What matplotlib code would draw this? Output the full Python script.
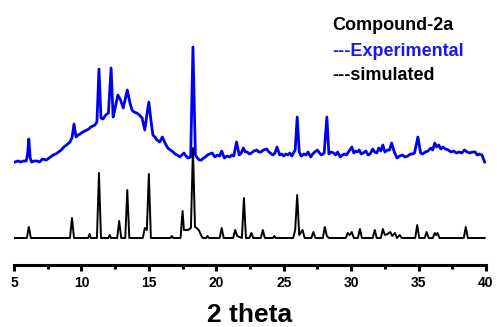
import matplotlib
matplotlib.use("Agg")
import matplotlib.pyplot as plt
from matplotlib.ticker import MultipleLocator

plt.rcParams['font.family'] = ['Liberation Sans', 'DejaVu Sans']

# Experimental pattern: (2theta, relative intensity)
exp_points = [
    (5.07, 8), (5.3, 9), (5.5, 8), (5.7, 9), (5.9, 9), (6.0, 15), (6.1, 31), (6.2, 12),
    (6.3, 8), (6.5, 9), (6.7, 9), (6.9, 8), (7.1, 11), (7.4, 10), (7.6, 12), (7.9, 15),
    (8.1, 16), (8.3, 18), (8.5, 20), (8.7, 23), (8.9, 25), (9.15, 28), (9.3, 32), (9.45, 46),
    (9.6, 33), (9.75, 35), (9.9, 36), (10.1, 38), (10.4, 40), (10.55, 41), (10.7, 43),
    (10.85, 44), (11.0, 45), (11.15, 48), (11.3, 101), (11.45, 52), (11.6, 51), (11.8, 55),
    (12.0, 57), (12.2, 102), (12.35, 53), (12.5, 62), (12.7, 75), (12.9, 70), (13.1, 62),
    (13.4, 80), (13.6, 67), (13.75, 60), (13.9, 58), (14.1, 57), (14.3, 55), (14.5, 52),
    (14.7, 40), (14.85, 55), (15.0, 68), (15.15, 50), (15.3, 35), (15.45, 33), (15.6, 30),
    (15.8, 28), (16.0, 33), (16.2, 27), (16.4, 22), (16.6, 20), (16.8, 18), (16.95, 16),
    (17.1, 15), (17.3, 13), (17.45, 15), (17.6, 17), (17.75, 14), (17.9, 12), (18.1, 13),
    (18.27, 123), (18.45, 15), (18.6, 12), (18.75, 10), (18.9, 10), (19.05, 12), (19.2, 13),
    (19.35, 15), (19.5, 16), (19.7, 17), (19.9, 13), (20.1, 15), (20.25, 14), (20.4, 19),
    (20.6, 12), (20.8, 14), (21.0, 13), (21.15, 15), (21.3, 14), (21.5, 28), (21.7, 15),
    (21.85, 17), (22.0, 22), (22.15, 18), (22.3, 18), (22.45, 16), (22.6, 17), (22.8, 19),
    (23.0, 20), (23.15, 18), (23.3, 18), (23.5, 20), (23.75, 21), (23.9, 18), (24.0, 17),
    (24.2, 15), (24.35, 17), (24.5, 23), (24.7, 15), (24.85, 16), (25.0, 14), (25.15, 16),
    (25.3, 15), (25.45, 17), (25.6, 14), (25.85, 20), (26.0, 53), (26.15, 18), (26.3, 14),
    (26.5, 16), (26.65, 15), (26.8, 18), (27.0, 13), (27.15, 16), (27.3, 18), (27.5, 20),
    (27.65, 17), (27.8, 15), (28.0, 17), (28.2, 53), (28.35, 16), (28.5, 18), (28.7, 17),
    (28.85, 15), (29.0, 18), (29.2, 13), (29.35, 15), (29.5, 16), (29.65, 15), (29.8, 18),
    (30.05, 23), (30.2, 17), (30.3, 19), (30.45, 18), (30.6, 20), (30.75, 16), (30.9, 17),
    (31.1, 19), (31.25, 15), (31.4, 16), (31.6, 21), (31.75, 18), (31.9, 17), (32.05, 22),
    (32.2, 19), (32.35, 25), (32.5, 18), (32.7, 20), (32.85, 20), (33.0, 27), (33.2, 18),
    (33.4, 12), (33.6, 14), (33.8, 15), (34.0, 13), (34.2, 14), (34.4, 16), (34.55, 16),
    (34.7, 17), (34.95, 33), (35.15, 17), (35.3, 16), (35.5, 18), (35.7, 19), (35.9, 22),
    (36.05, 20), (36.2, 27), (36.35, 23), (36.5, 25), (36.65, 21), (36.8, 23), (37.0, 21),
    (37.2, 20), (37.4, 18), (37.6, 19), (37.8, 17), (38.0, 18), (38.2, 17), (38.4, 20),
    (38.6, 18), (38.8, 17), (39.0, 18), (39.2, 18), (39.35, 15), (39.5, 16), (39.7, 15),
    (39.9, 8),
]
exp_2theta = [p[0] for p in exp_points]
exp_intensity = [p[1] for p in exp_points]

# Simulated pattern: (2theta, relative intensity)
sim_points = [
    (5.0, 0), (5.95, 0), (6.1, 11), (6.25, 0), (9.15, 0), (9.3, 20), (9.45, 0),
    (10.5, 0), (10.6, 4), (10.7, 0), (11.15, 0), (11.3, 65), (11.45, 0),
    (12.0, 0), (12.1, 3), (12.2, 0), (12.65, 0), (12.8, 17), (12.95, 0),
    (13.25, 0), (13.4, 48), (13.55, 0), (14.55, 0), (14.7, 10), (14.85, 8),
    (15.0, 64), (15.15, 0), (16.6, 0), (16.7, 2), (16.8, 0), (17.35, 0), (17.5, 27),
    (17.6, 8), (17.75, 8), (17.9, 8), (18.12, 10), (18.27, 90), (18.42, 11),
    (18.55, 10), (18.7, 8), (18.9, 2), (19.0, 0), (19.25, 0), (19.35, 2), (19.45, 0),
    (20.25, 0), (20.4, 10), (20.55, 0), (21.25, 0), (21.4, 8), (21.55, 2), (21.9, 0),
    (22.05, 40), (22.2, 0), (22.45, 0), (22.6, 5), (22.75, 0), (23.3, 0), (23.45, 8),
    (23.6, 0), (24.2, 0), (24.3, 2), (24.4, 0), (25.7, 0), (25.85, 8), (26.0, 43),
    (26.15, 3), (26.4, 8), (26.55, 0), (27.05, 0), (27.2, 6), (27.35, 0), (27.9, 0),
    (28.05, 11), (28.2, 2), (28.35, 0), (29.6, 0), (29.75, 5), (29.9, 3), (30.05, 6),
    (30.2, 0), (30.5, 0), (30.65, 9), (30.8, 0), (31.6, 0), (31.75, 8), (31.9, 0),
    (32.2, 0), (32.35, 9), (32.5, 3), (32.7, 4), (32.9, 6), (33.05, 2), (33.25, 5),
    (33.4, 0), (33.6, 3), (33.75, 0), (34.75, 0), (34.9, 13), (35.05, 0), (35.45, 0),
    (35.6, 6), (35.75, 0), (36.05, 0), (36.2, 5), (36.3, 3), (36.4, 5), (36.55, 0),
    (38.35, 0), (38.5, 11), (38.65, 0), (39.9, 0),
]
sim_2theta = [p[0] for p in sim_points]
sim_intensity = [p[1] for p in sim_points]

xticks = [5, 10, 15, 20, 25, 30, 35, 40]
exp_offset = 95
sim_offset = 27

fig = plt.figure(figsize=(4.97, 3.27), dpi=100)
ax = fig.add_axes([14/497, 1 - 265/327, 472/497, 225/327])

ax.plot(sim_2theta, [v + sim_offset for v in sim_intensity], color='black', lw=1.4, zorder=2)
ax.plot(exp_2theta, [v + exp_offset for v in exp_intensity], color='#0000ee', lw=2.0, zorder=3)

ax.set_xlim(5, 40)
ax.set_ylim(0, 225)
for s in ['left', 'right', 'top']:
    ax.spines[s].set_visible(False)
ax.spines['bottom'].set_linewidth(2.2)
ax.set_yticks([])
ax.set_xticks(xticks)
ax.xaxis.set_minor_locator(MultipleLocator(2.5))
ax.tick_params(axis='x', which='major', direction='out', length=4, width=2.2, pad=4,
               labelsize=10, colors='black')
ax.tick_params(axis='x', which='minor', direction='out', length=3, width=2.2)
for lab in ax.get_xticklabels():
    lab.set_fontweight('bold')
ax.set_xlabel('2 theta', fontsize=19, fontweight='bold', labelpad=9)

fig.text(332/497, 1 - 26/327, 'Compound-2a', fontsize=13, fontweight='bold',
         color='black', va='center', ha='left')
fig.text(332/497, 1 - 51/327, '---Experimental', fontsize=13, fontweight='bold',
         color='#1a1ae6', va='center', ha='left')
fig.text(332/497, 1 - 75/327, '---simulated', fontsize=13, fontweight='bold',
         color='black', va='center', ha='left')

fig.savefig('out.png', dpi=100)
